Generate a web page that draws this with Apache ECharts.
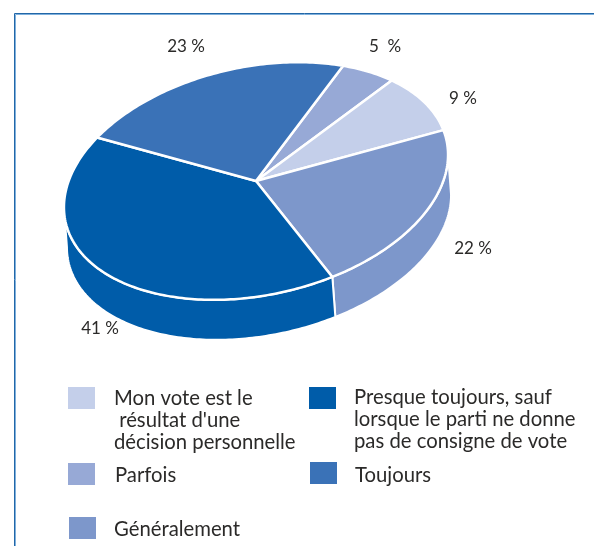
<!DOCTYPE html>
<html>
<head>
<meta charset="utf-8">
<style>
html, body { margin: 0; padding: 0; background: #fff; }
#chart { width: 594px; height: 546px; }
</style>
<script src="https://cdn.jsdelivr.net/npm/echarts@6/dist/echarts.min.js"></script>
</head>
<body>
<div id="chart"></div>
<script>
// slices in drawing order, clockwise from the top
var categories = ['Parfois', "Mon vote est le\n résultat d'une\ndécision personnelle", 'Généralement', 'Presque toujours, sauf\nlorsque le parti ne donne\npas de consigne de vote', 'Toujours'];
var values = [5, 9, 22, 41, 23];
var percentLabels = ['5  %', '9 %', '22 %', '41 %', '23 %'];
var colors = ['#97a9d6', '#c4cfea', '#7d97cb', '#005ca9', '#3a72b7'];

// the disc is a tilted ellipse, so use x/y as an affine of the circle
var CX = 256, CY = 181;
var START_ANGLE = 69;
var DEPTH_X = 3, DEPTH_Y = 40;
// part of the rim where the side wall can be seen
var SIDE_FROM = 6, SIDE_TO = -174;

var labelPos = [[385, 47], [463, 99], [473, 249], [100, 329], [186, 47]];
var legendPos = [[68, 463, 115, 464], [68, 387, 114, 387], [69, 517, 114, 518], [309, 387, 354, 386], [310, 462, 355, 464]];

var FONT = 'Lato, "Open Sans", sans-serif';

function rim(deg, ox, oy) {
	var t = deg * Math.PI / 180;
	return [
		CX + 191 * Math.cos(t) + 20 * Math.sin(t) + ox,
		CY - 118 * Math.sin(t) - 14 * Math.cos(t) + oy
	];
}

function sliceAngles(index) {
	var a = START_ANGLE;
	for (var i = 0; i < index; i++) a -= values[i] * 3.6;
	return [a, a - values[index] * 3.6];
}

function topItem(params, api) {
	var ang = sliceAngles(params.dataIndex);
	var pts = [[CX, CY]];
	for (var d = ang[0]; d > ang[1]; d -= 1) pts.push(rim(d, 0, 0));
	pts.push(rim(ang[1], 0, 0));
	return {
		type: 'polygon',
		shape: { points: pts },
		style: { fill: colors[params.dataIndex], stroke: '#fff', lineWidth: 2.5, lineJoin: 'round' }
	};
}

function sideItem(params, api) {
	var ang = sliceAngles(params.dataIndex);
	var from = Math.min(ang[0], SIDE_FROM), to = Math.max(ang[1], SIDE_TO);
	if (from <= to) return null;
	var pts = [], d;
	for (d = from; d > to; d -= 1) pts.push(rim(d, 0, 0));
	pts.push(rim(to, 0, 0));
	pts.push(rim(to, DEPTH_X, DEPTH_Y));
	for (d = to; d < from; d += 1) pts.push(rim(d, DEPTH_X, DEPTH_Y));
	pts.push(rim(from, DEPTH_X, DEPTH_Y));
	return {
		type: 'polygon',
		shape: { points: pts },
		style: { fill: colors[params.dataIndex], stroke: '#fff', lineWidth: 2, lineJoin: 'round' }
	};
}

var graphics = [
	// frame, only top and left sides are in the picture
	{ type: 'polyline', silent: true, shape: { points: [[15.5, 546], [15.5, 14.5], [594, 14.5]] }, style: { fill: null, stroke: '#7fb0dc', lineWidth: 1 } },
	{ type: 'polyline', silent: true, shape: { points: [[14.5, 546], [14.5, 13.5], [594, 13.5]] }, style: { fill: null, stroke: '#2267a8', lineWidth: 1 } }
];

values.forEach(function(v, i) {
	graphics.push({
		type: 'text', silent: true, x: labelPos[i][0], y: labelPos[i][1],
		style: { text: percentLabels[i], fill: '#2b2a29', font: '17px ' + FONT, textAlign: 'center', textVerticalAlign: 'middle' }
	});
	var lp = legendPos[i];
	graphics.push({
		type: 'rect', silent: true,
		shape: { x: lp[0], y: lp[1], width: 27, height: 22 },
		style: { fill: colors[i] }
	});
	graphics.push({
		type: 'text', silent: true, x: lp[2], y: lp[3],
		style: { text: categories[i], fill: '#2b2a29', font: '20.3px ' + FONT, lineHeight: 22, textAlign: 'left', textVerticalAlign: 'top' }
	});
});

var myChart = echarts.init(document.getElementById('chart'));
myChart.setOption({
	animation: false,
	graphic: graphics,
	series: [
		{ type: 'custom', coordinateSystem: 'none', silent: true, renderItem: sideItem, data: values, z: 2 },
		{ type: 'custom', coordinateSystem: 'none', silent: true, renderItem: topItem, data: values, z: 3 }
	]
});
</script>
</body>
</html>
